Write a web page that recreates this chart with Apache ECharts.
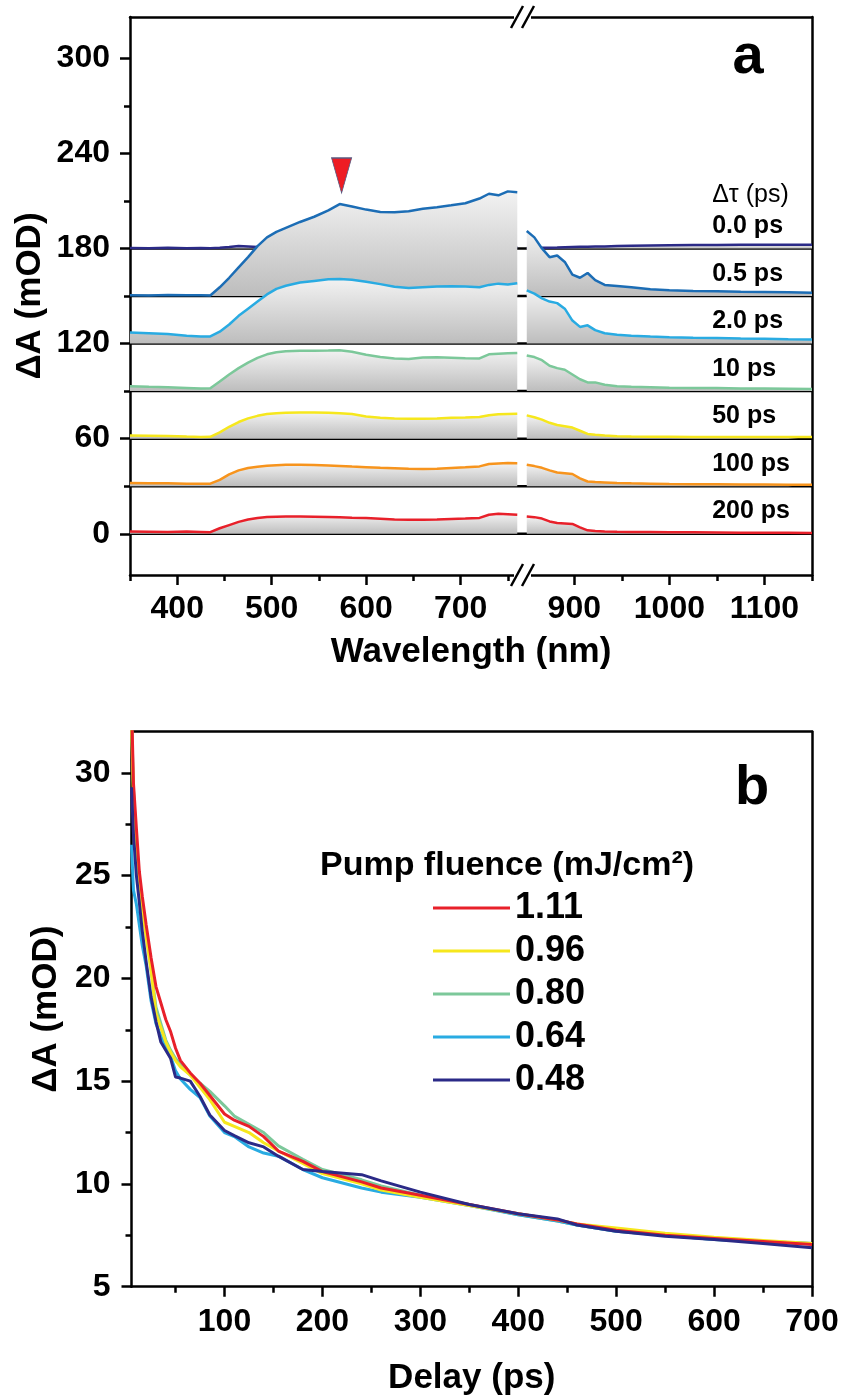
<!DOCTYPE html>
<html><head><meta charset="utf-8">
<script src="https://cdn.jsdelivr.net/npm/echarts@6/dist/echarts.min.js"></script>
<style>html,body{margin:0;padding:0;background:#fff}#c{width:842px;height:1400px}</style>
</head><body><div id="c"></div>
<script>
// ---------- DATA (panel a) ----------
const delayLabels = ['0.0 ps','0.5 ps','2.0 ps','10 ps','50 ps','100 ps','200 ps'];
const offsets = [180,150,120,90,60,30,0];
const spectraColors = ['#2b2a87','#1c6db5','#29abe2','#7cc89a','#f6e71d','#f7941d','#e8202a'];
const wlLeft = [350,370,390,410,425,435,445,455,465,475,485,495,505,515,530,545,560,572,585,600,615,630,645,660,675,690,705,720,730,740,750,760];
const wlRight = [850,858,866,874,882,890,898,906,914,922,932,945,960,980,1000,1025,1050,1075,1100,1125,1150];
const d00L = [0.3,0.2,0.4,0.2,0.3,0.2,0.5,0.9,1.5,1.2,0.9,0.6,0.5,0.6,0.4,0.5,0.6,0.5,0.4,0.5,0.6,0.5,0.4,0.5,0.6,0.5,0.5,0.6,0.5,0.6,0.6,0.7];
const d05L = [0.5,0.3,0.6,0.4,0.5,0.3,5.5,11.5,18,24.5,31.5,37,40.5,43,46.7,50,54,58,56.5,54.5,53,52.8,53.5,55,56,57.2,58.5,61.5,64.5,63.5,66,65.5];
const d20L = [7,6.5,6,5,4.5,4.5,7.5,12,17.5,22,26.5,31,34.5,36.5,38.5,39.5,40.5,40.8,40.3,39,37.5,35.8,35,35.5,36,36.2,36,35.5,37,37.8,37.2,38];
const d10L = [3,2.7,2.5,2,1.6,1.8,6,10.5,14.5,18,21,23.2,24.5,25.2,25.4,25.5,25.6,25.8,24.8,23,21.5,20.6,20.3,21.2,21.3,21,20.7,20.6,23.2,23.6,23.9,24];
const d50L = [2,1.9,1.7,1.3,1.1,1.2,4,7.5,10.5,12.8,14.4,15.5,16.1,16.4,16.5,16.5,16.3,16.1,15.5,14,13.2,12.8,12.6,12.6,12.8,13.2,13.4,13.7,14.8,15.4,15.6,15.7];
const d100L = [2,1.9,1.8,1.5,1.5,1.6,4,7.5,10,11.5,12.3,12.9,13.3,13.5,13.5,13.4,13.1,12.8,12.4,12,11.6,11.3,11,10.8,11.1,11.5,11.9,12.5,14,14.4,14.6,14.5];
const d200L = [1.5,1.3,1.1,1.4,1.2,1.0,3.5,5.5,7.5,9,10,10.6,10.8,10.9,10.9,10.8,10.6,10.4,10.1,9.9,9.5,9,8.8,8.8,9,9.3,9.6,10,12,12.6,12.3,12];
const d00R = [0.3,0.3,0.4,0.5,0.6,0.8,0.9,1.0,1.1,1.2,1.3,1.5,1.7,1.9,2.0,2.1,2.2,2.3,2.3,2.4,2.3];
const d05R = [41,37,30,24.5,25.5,21.5,13.5,11.5,14.5,10,7,6.3,5.5,4.3,3.6,3.2,3,2.7,2.5,2.3,2.1];
const d20R = [33.5,31.5,28.5,26.5,25.5,22,14.5,10.5,11.5,8.5,6.5,5.6,5,4.4,4,3.7,3.5,3.2,3,2.7,2.5];
const d10R = [22.5,21.5,19.5,16,14.5,13.5,10.5,7.5,5.5,5.5,4,3,2.7,2.5,2.2,2,1.9,1.7,1.6,1.5,1.4];
const d50R = [14.7,13.5,12,10,8.6,7.8,7,5,3,2.5,2,1.5,1.3,1.2,1.2,1.1,1,1,1.1,1,1];
const d100R = [13.5,12.7,11.6,10,8.7,8.2,7.7,5,3,2.6,2.4,2.1,1.8,1.6,1.4,1.3,1.2,1.1,1.1,1.0,1.0];
const d200R = [10.9,10.5,9.6,7.8,6.8,6.5,6.2,4,2.2,1.8,1.5,1.3,1.2,1.2,1,0.9,0.8,0.7,0.6,0.6,0.5];
const spectraLeft = [d00L,d05L,d20L,d10L,d50L,d100L,d200L];
const spectraRight = [d00R,d05R,d20R,d10R,d50R,d100R,d200R];
const peakMarker = [574, 226];
const ticksA_y = [0,60,120,180,240,300];
const minorA_y = [30,90,150,210,270];
const ticksA_xL = [400,500,600,700];
const minorA_xL = [350,450,550,650,750];
const ticksA_xR = [900,1000,1100];
const minorA_xR = [950,1050,1150];

// ---------- DATA (panel b) ----------
const delays = [5,7,10,13,16,20,25,30,35,40,45,50,55,65,75,85,100,110,125,140,155,180,200,240,260,300,350,400,440,460,500,550,600,650,700];
const fluenceNames = ['1.11','0.96','0.80','0.64','0.48'];
const fluenceColors = ['#e8202a','#f6e71d','#7cc89a','#29abe2','#2b2a87'];
const f111 = [33.5,29.5,27.3,25.2,24.0,22.6,21.0,19.6,18.8,18.0,17.4,16.6,16.0,15.4,14.9,14.3,13.4,13.1,12.8,12.3,11.6,11.1,10.6,10.1,9.8,9.45,9.0,8.55,8.25,8.05,7.75,7.5,7.35,7.2,7.05];
const f096 = [32.5,28.8,26.0,24.6,23.4,22.0,20.4,18.3,17.6,16.9,16.4,16.0,15.7,15.3,14.7,14.1,13.0,12.8,12.5,12.0,11.6,11.0,10.5,10.0,9.7,9.35,8.95,8.55,8.25,8.05,7.85,7.6,7.4,7.25,7.1];
const f080 = [32.8,29.2,26.5,24.9,23.6,22.2,20.4,18.6,17.8,17.0,16.5,16.1,15.8,15.3,14.9,14.5,13.8,13.3,12.9,12.5,11.85,11.2,10.7,10.2,9.9,9.45,9.0,8.5,8.2,8.0,7.7,7.5,7.3,7.2,7.1];
const f064 = [26.5,24.3,23.6,22.6,21.6,20.6,18.9,17.8,17.2,16.7,16.2,15.5,15.1,14.6,14.2,13.3,12.5,12.3,11.8,11.5,11.35,10.7,10.3,9.8,9.6,9.35,8.95,8.5,8.2,8.0,7.7,7.5,7.3,7.2,7.1];
const f048 = [29.3,27.0,25.0,23.7,22.3,20.8,19.1,17.9,16.9,16.5,16.1,15.2,15.15,15.0,14.25,13.35,12.6,12.35,12.0,11.8,11.35,10.7,10.6,10.45,10.15,9.6,9.0,8.55,8.3,8.0,7.7,7.45,7.3,7.1,6.9];
const kinetics = [f111,f096,f080,f064,f048];
const drawOrderB = [2,3,1,0,4];
const ticksB_x = [100,200,300,400,500,600,700];
const minorB_x = [50,150,250,350,450,550,650];
const ticksB_y = [5,10,15,20,25,30];
const minorB_y = [7.5,12.5,17.5,22.5,27.5];

// ---------- LAYOUT ----------
const FONT = "'Liberation Sans', Arial, Helvetica, sans-serif";
const BLACK = '#000';
const AX = {color: BLACK, width: 2.5};
const A = {left:130, brk:522, right:812, top:17, bottom:575, xLmin:350, xLmax:765, xRmin:845, xRmax:1150, ymin:-26, ymax:326};
const B = {left:131.5, right:812, top:731.7, bottom:1286.7, xmin:5, xmax:700, ymin:5, ymax:32};

function blank(extra){
  return Object.assign({type:'value', splitLine:{show:false}, axisLine:{show:false,onZero:false},
    axisTick:{show:false}, axisLabel:{show:false}}, extra);
}
function labelStyle(margin){
  return {fontSize:32, fontWeight:'bold', color:BLACK, fontFamily:FONT, margin:margin,
    formatter:function(v){return String(v);}};
}
function majorAxis(extra, ticks, margin){
  return blank(Object.assign({
    axisLine:{show:true,onZero:false,lineStyle:AX},
    axisTick:{show:true,length:10,customValues:ticks,lineStyle:AX},
    axisLabel:Object.assign({show:true,customValues:ticks}, labelStyle(margin))
  }, extra));
}
function minorAxis(extra, ticks){
  return blank(Object.assign({axisTick:{show:true,length:6,customValues:ticks,lineStyle:AX}}, extra));
}
function lineOnly(extra){
  return blank(Object.assign({axisLine:{show:true,onZero:false,lineStyle:AX}}, extra));
}
const nameStyle = {fontSize:35,fontWeight:'bold',color:BLACK,fontFamily:FONT};

const xAxis = [
  majorAxis({gridIndex:0,min:A.xLmin,max:A.xLmax,position:'bottom'}, ticksA_xL, 18),   //0
  minorAxis({gridIndex:0,min:A.xLmin,max:A.xLmax,position:'bottom'}, minorA_xL),       //1
  lineOnly({gridIndex:0,min:A.xLmin,max:A.xLmax,position:'top'}),                      //2
  majorAxis({gridIndex:1,min:A.xRmin,max:A.xRmax,position:'bottom'}, ticksA_xR, 18),   //3
  minorAxis({gridIndex:1,min:A.xRmin,max:A.xRmax,position:'bottom'}, minorA_xR),       //4
  lineOnly({gridIndex:1,min:A.xRmin,max:A.xRmax,position:'top'}),                      //5
  majorAxis({gridIndex:2,min:B.xmin,max:B.xmax,position:'bottom',name:'Delay (ps)',nameLocation:'middle',nameGap:74,
    nameTextStyle:nameStyle}, ticksB_x, 19),                                             //6
  minorAxis({gridIndex:2,min:B.xmin,max:B.xmax,position:'bottom'}, minorB_x),          //7
  lineOnly({gridIndex:2,min:B.xmin,max:B.xmax,position:'top'})                         //8
];
const yAxis = [
  majorAxis({gridIndex:0,min:A.ymin,max:A.ymax,position:'left',name:'ΔA (mOD)',nameLocation:'middle',nameRotate:90,nameGap:82,
    nameTextStyle:nameStyle}, ticksA_y, 20),                                             //0
  minorAxis({gridIndex:0,min:A.ymin,max:A.ymax,position:'left'}, minorA_y),             //1
  lineOnly({gridIndex:1,min:A.ymin,max:A.ymax,position:'right'}),                      //2
  majorAxis({gridIndex:2,min:B.ymin,max:B.ymax,position:'left',name:'ΔA (mOD)',nameLocation:'middle',nameRotate:90,nameGap:66,
    nameTextStyle:nameStyle}, ticksB_y, 21),                                             //3
  minorAxis({gridIndex:2,min:B.ymin,max:B.ymax,position:'left'}, minorB_y),             //4
  lineOnly({gridIndex:2,min:B.ymin,max:B.ymax,position:'right'})                       //5
];

const fillGrad = {type:'linear',x:0,y:0,x2:0,y2:1,colorStops:[{offset:0,color:'#f2f2f2'},{offset:1,color:'#bdbdbd'}]};

const series = [];
offsets.forEach(function(off, k){
  const zBase = 2 + 2*k, zCurve = 3 + 2*k;
  const labelItems = [{coord:[1045, off+14], label:{formatter:delayLabels[k]}}];
  if (k === 0) labelItems.push({coord:[1045, off+33.5], label:{formatter:'Δτ (ps)', fontWeight:'normal'}});
  series.push({type:'line', z:zBase, xAxisIndex:0, yAxisIndex:0, data:[[A.xLmin,off],[A.xLmax,off]], symbol:'none', silent:true,
    lineStyle:{color:BLACK,width:2.5}});
  series.push({type:'line', z:zBase, xAxisIndex:3, yAxisIndex:2, data:[[A.xRmin,off],[A.xRmax,off]], symbol:'none', silent:true,
    lineStyle:{color:BLACK,width:2.5},
    markPoint:{z:60, symbol:'circle', symbolSize:0, silent:true, data:labelItems,
      label:{show:true, position:'right', distance:0, fontSize:25, fontWeight:'bold', color:BLACK, fontFamily:FONT}}});
  const left = {type:'line', z:zCurve, xAxisIndex:0, yAxisIndex:0, symbol:'none', silent:true,
    data: wlLeft.map(function(w,i){return [w, spectraLeft[k][i]+off];}),
    lineStyle:{color:spectraColors[k], width:2.5},
    areaStyle:{origin:off, color:fillGrad, opacity:1}};
  if (k === 1) {
    left.markPoint = {z:60, symbol:'triangle', symbolRotate:180, symbolSize:[20,35], silent:true,
      data:[{coord:peakMarker}], itemStyle:{color:'#ee1c24', borderColor:'#5a5a80', borderWidth:1}, label:{show:false}};
  }
  series.push(left);
  series.push({type:'line', z:zCurve, xAxisIndex:3, yAxisIndex:2, symbol:'none', silent:true,
    data: wlRight.map(function(w,i){return [w, spectraRight[k][i]+off];}),
    lineStyle:{color:spectraColors[k], width:2.5},
    areaStyle:{origin:off, color:fillGrad, opacity:1}});
});
drawOrderB.forEach(function(i, n){
  series.push({type:'line', z:3+n, name:fluenceNames[i], xAxisIndex:6, yAxisIndex:3, symbol:'none', showSymbol:false,
    data: delays.map(function(t,j){return [t, kinetics[i][j]];}),
    lineStyle:{color:fluenceColors[i], width:3}, itemStyle:{color:fluenceColors[i]}});
});

// decorations: axis break marks and free text
const graphic = [];
[A.top, A.bottom].forEach(function(y){
  graphic.push({type:'rect', z:100, shape:{x:A.brk-8, y:y-3, width:17, height:6}, style:{fill:'#fff'}});
  [A.brk-5, A.brk+6].forEach(function(xc){
    graphic.push({type:'line', z:101, shape:{x1:xc-6, y1:y+11, x2:xc+6, y2:y-11}, style:{stroke:BLACK, lineWidth:2.5}});
  });
});
function txt(x, y, text, size, weight){
  return {type:'text', z:102, x:x, y:y, style:{text:text, font:weight+' '+size+'px '+FONT, fill:BLACK, align:'center', verticalAlign:'middle'}};
}
graphic.push(txt(471, 652, 'Wavelength (nm)', 35, 'bold'));
graphic.push(txt(748, 58, 'a', 56, 'bold'));
graphic.push(txt(752, 789, 'b', 56, 'bold'));
graphic.push(txt(507, 866, 'Pump fluence (mJ/cm²)', 34, 'bold'));

const option = {
  animation:false,
  backgroundColor:'#fff',
  textStyle:{fontFamily:FONT},
  grid:[
    {left:A.left, top:A.top, width:A.brk-A.left, height:A.bottom-A.top, containLabel:false, outerBoundsMode:'none'},
    {left:A.brk, top:A.top, width:A.right-A.brk, height:A.bottom-A.top, containLabel:false, outerBoundsMode:'none'},
    {left:B.left, top:B.top, width:B.right-B.left, height:B.bottom-B.top, containLabel:false, outerBoundsMode:'none'}
  ],
  legend:{data:fluenceNames, orient:'vertical', left:428, top:885, icon:'rect', itemWidth:77, itemHeight:3, itemGap:7,
    selectedMode:false, textStyle:{fontSize:36, fontWeight:'bold', color:BLACK, fontFamily:FONT, lineHeight:36}},
  xAxis:xAxis, yAxis:yAxis, series:series, graphic:graphic
};
const chart = echarts.init(document.getElementById('c'));
chart.setOption(option);
</script></body></html>
